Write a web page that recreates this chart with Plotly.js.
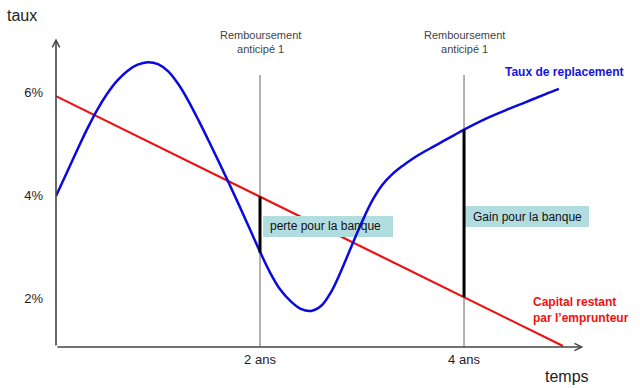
<!DOCTYPE html>
<html><head><meta charset="utf-8">
<script src="https://cdn.plot.ly/plotly-3.0.1.min.js"></script>
<style>html,body{margin:0;padding:0;background:#fff}#chart{width:640px;height:388px}</style>
</head><body><div id="chart"></div>
<script>
// ---- data ----
const blueX = [0, 0.1, 0.2, 0.3, 0.4, 0.5, 0.6, 0.7, 0.8, 0.9, 1.0, 1.1, 1.2, 1.3, 1.4, 1.5, 1.6, 1.7, 1.8, 1.9, 2.0,
               2.1, 2.2, 2.3, 2.4, 2.5, 2.6, 2.7, 2.8, 2.9, 3.0, 3.1, 3.2, 3.3, 3.4, 3.5, 3.6, 3.7, 3.8, 3.9, 4.0,
               4.2, 4.4, 4.6, 4.8, 4.93];
const blueY = [3.98, 4.41, 4.84, 5.26, 5.64, 5.96, 6.22, 6.41, 6.53, 6.58, 6.54, 6.40, 6.15, 5.82, 5.44, 5.04, 4.63, 4.21, 3.78, 3.34, 2.90,
               2.49, 2.16, 1.94, 1.79, 1.75, 1.85, 2.13, 2.55, 3.02, 3.48, 3.89, 4.20, 4.41, 4.57, 4.71, 4.83, 4.94, 5.05, 5.16, 5.27,
               5.47, 5.64, 5.80, 5.96, 6.06];
const redX = [0, 4.97];
const redY = [5.92, 1.07];
const eventX = [2, 4];
const eventRed = [3.97, 2.02];
const eventBlue = [2.88, 5.27];
const yTickVals = [2, 4, 6];
const yTickText = ['2%', '4%', '6%'];
const xTickVals = [2, 4];
const xTickText = ['2 ans', '4 ans'];

// ---- layout constants ----
const Y0 = 1.05, XMAX = 5.333, YMAX = 7.204;
const lineTop = 6.33;
const FONT = 'Arial, "Liberation Sans", sans-serif';
const BOXC = '#b2dde0';

const vx = [], vy = [];
eventX.forEach(x => { vx.push(x, x, null); vy.push(Y0, lineTop, null); });
const gx = [], gy = [];
eventX.forEach((x, i) => { gx.push(x, x, null); gy.push(eventRed[i], eventBlue[i], null); });

function box(x0, x1, y0, y1) {
  return {x: [x0, x1, x1, x0, x0], y: [y0, y0, y1, y1, y0], mode: 'lines', fill: 'toself',
    fillcolor: BOXC, line: {width: 0, color: BOXC}, hoverinfo: 'skip', showlegend: false};
}

const traces = [
  {x: vx, y: vy, mode: 'lines', line: {color: '#666', width: 1}, hoverinfo: 'skip', showlegend: false},
  {x: redX, y: redY, mode: 'lines', line: {color: '#ee1111', width: 2.2}, hoverinfo: 'skip', showlegend: false},
  box(2.03, 3.304, 3.184, 3.592),
  box(4.01, 5.225, 3.379, 3.786),
  {x: blueX, y: blueY, mode: 'lines', line: {color: '#0a0ae0', width: 2.5, shape: 'spline', smoothing: 1}, hoverinfo: 'skip', showlegend: false},
  {x: gx, y: gy, mode: 'lines', line: {color: '#000', width: 3}, hoverinfo: 'skip', showlegend: false}
];

function txt(text, x, y, opts) {
  return Object.assign({text: text, x: x, y: y, xref: 'x', yref: 'y', showarrow: false,
    font: {family: FONT, size: 12, color: '#222'}, xanchor: 'center', yanchor: 'middle'}, opts || {});
}
function arrow(x, y) {
  return {text: '', x: x, y: y, ax: 0, ay: Y0, xref: 'x', yref: 'y', axref: 'x', ayref: 'y',
    showarrow: true, arrowhead: 5, arrowsize: 0.9, arrowwidth: 1.6, arrowcolor: '#444', standoff: 0};
}

const layout = {
  width: 640, height: 388,
  margin: {l: 56, r: 40, t: 30, b: 41},
  paper_bgcolor: '#fff', plot_bgcolor: '#fff',
  font: {family: FONT},
  xaxis: {range: [0, XMAX], showgrid: false, zeroline: false, showline: false, ticks: '',
    tickvals: xTickVals, ticktext: xTickText, tickfont: {family: FONT, size: 13, color: '#222'},
    ticklabelstandoff: 3, fixedrange: true},
  yaxis: {range: [Y0, YMAX], showgrid: false, zeroline: false, showline: false, ticks: '',
    tickvals: yTickVals, ticktext: yTickText, tickfont: {family: FONT, size: 13, color: '#222'},
    ticklabelstandoff: 12, fixedrange: true},
  annotations: [
    arrow(0, 7.04),
    arrow(5.17, Y0),
    txt('taux', -0.0634, 1.047, {xref: 'paper', yref: 'paper', font: {family: FONT, size: 16, color: '#222'}}),
    txt('temps', 0.939, -0.0915, {xref: 'paper', yref: 'paper', font: {family: FONT, size: 16, color: '#222'}}),
    txt('Remboursement<br>anticipé 1', 2, 6.98, {font: {family: FONT, size: 11, color: '#444'}}),
    txt('Remboursement<br>anticipé 1', 4, 6.98, {font: {family: FONT, size: 11, color: '#444'}}),
    txt('<b>Taux de replacement</b>', 4.985, 6.39, {font: {family: FONT, size: 12, color: '#1515e0'}}),
    txt('<b>Capital restant<br>par l’emprunteur</b>', 4.657, 1.767, {xanchor: 'left', align: 'left', font: {family: FONT, size: 12, color: '#ee1111'}}),
    txt('perte pour la banque', 2.078, 3.39, {xanchor: 'left', font: {family: FONT, size: 12, color: '#111'}}),
    txt('Gain pour la banque', 4.069, 3.58, {xanchor: 'left', font: {family: FONT, size: 12, color: '#111'}})
  ]
};

Plotly.newPlot('chart', traces, layout, {displayModeBar: false, staticPlot: true});
</script>
</body></html>
